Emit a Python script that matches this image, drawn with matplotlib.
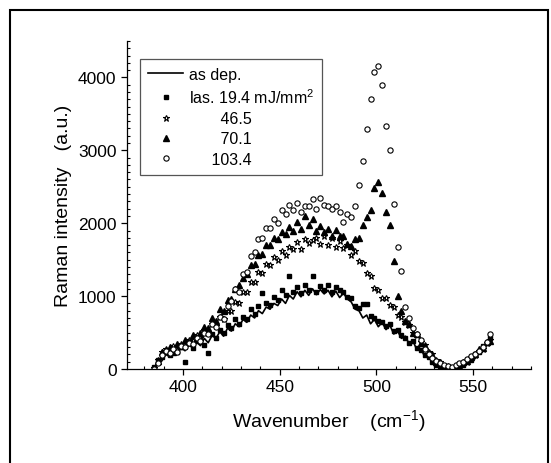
"""
Raman spectra of as-deposited and laser-treated films (recreated figure).
Values read off the reference picture by eye.
"""
import numpy as np
import matplotlib
matplotlib.use('Agg')
import matplotlib.pyplot as plt
from matplotlib.patches import Rectangle
from matplotlib.ticker import MultipleLocator

plt.rcParams['font.family'] = ['Liberation Sans', 'DejaVu Sans']
plt.rcParams['mathtext.default'] = 'regular'

# ── wavenumber grid (cm^-1) ──
WN = [385, 387, 389, 391, 393, 395, 397, 399, 401, 403, 405, 407, 409, 411, 413,
      415, 417, 419, 421, 423, 425, 427, 429, 431, 433, 435, 437, 439, 441, 443,
      445, 447, 449, 451, 453, 455, 457, 459, 461, 463, 465, 467, 469, 471, 473,
      475, 477, 479, 481, 483, 485, 487, 489, 491, 493, 495, 497, 499, 501, 503,
      505, 507, 509, 511, 513, 515, 517, 519, 521, 523, 525, 527, 529, 531, 533,
      535, 537, 539, 541, 543, 545, 547, 549, 551, 553, 555, 557, 559]

# ── intensities (a.u.) ──
AS_DEP = [0, 70, 110, 200, 170, 260, 210, 300, 250, 330, 290, 370, 320, 420, 360,
          460, 420, 510, 450, 560, 520, 620, 580, 680, 640, 740, 700, 800, 760, 850,
          820, 900, 870, 960, 900, 1010, 960, 1060, 990, 1080, 1010, 1100, 1020, 1090, 1030,
          1080, 990, 1070, 980, 1040, 960, 920, 820, 800, 700, 740, 620, 680, 580, 640,
          540, 600, 480, 520, 420, 450, 340, 380, 260, 280, 170, 190, 80, 60, 10,
          20, 0, 30, 0, 20, 60, 70, 130, 140, 220, 250, 330, 390]

LAS_19_4 = [30, 120, 160, 230, 190, 280, 240, 300, 100, 360, 290, 390, 420, 330, 220,
            480, 430, 540, 500, 600, 560, 680, 620, 720, 680, 820, 760, 860, 1040, 900,
            880, 990, 950, 1080, 1010, 1270, 1050, 1130, 1040, 1150, 1080, 1270, 1060, 1140, 1080,
            1150, 1060, 1120, 1080, 1060, 990, 980, 870, 840, 890, 890, 730, 700, 660, 640,
            590, 620, 520, 540, 460, 420, 360, 380, 290, 260, 190, 160, 90, 60, 40,
            20, 30, 0, 20, 40, 50, 120, 130, 200, 230, 310, 350, 430]

LAS_46_5 = [20, 120, 230, 270, 210, 310, 260, 340, 320, 400, 380, 470, 430, 540, 510,
            620, 590, 720, 680, 800, 790, 920, 900, 1050, 1050, 1200, 1190, 1330, 1320, 1440,
            1420, 1540, 1500, 1620, 1560, 1680, 1640, 1740, 1650, 1780, 1730, 1770, 1800, 1720, 1830,
            1700, 1800, 1680, 1750, 1660, 1700, 1560, 1620, 1480, 1450, 1320, 1280, 1110, 1080, 980,
            980, 880, 850, 740, 720, 640, 610, 500, 460, 370, 330, 240, 200, 120, 100,
            40, 40, 0, 30, 30, 80, 100, 160, 190, 250, 280, 360, 400]

LAS_70_1 = [10, 110, 230, 260, 300, 240, 340, 310, 400, 370, 460, 430, 500, 580, 560,
            700, 660, 820, 800, 950, 960, 1100, 1150, 1250, 1300, 1420, 1440, 1570, 1580, 1700,
            1700, 1800, 1780, 1880, 1850, 1950, 1900, 2010, 1920, 2100, 1980, 2060, 1900, 1960, 1880,
            1920, 1820, 1910, 1830, 1820, 1720, 1690, 1780, 1800, 1980, 2080, 2180, 2480, 2560, 2420,
            2160, 1980, 1480, 1000, 800, 660, 620, 500, 480, 360, 320, 220, 190, 100, 90,
            30, 30, 0, 30, 40, 90, 110, 170, 200, 270, 290, 370, 390]

LAS_103_4 = [0, 80, 190, 250, 220, 270, 240, 310, 300, 350, 340, 420, 390, 500, 480,
             620, 580, 720, 680, 860, 930, 1100, 1050, 1300, 1330, 1550, 1600, 1780, 1800, 1930,
             1930, 2060, 2000, 2180, 2130, 2250, 2180, 2280, 2150, 2230, 2240, 2330, 2200, 2340, 2250,
             2230, 2200, 2230, 2150, 2020, 2120, 2080, 2230, 2530, 2850, 3290, 3700, 4070, 4160, 3900,
             3340, 3010, 2270, 1680, 1340, 850, 700, 560, 480, 400, 280, 200, 150, 110, 80,
             50, 40, 30, 50, 80, 100, 140, 180, 200, 250, 300, 370, 480]

fig = plt.figure(figsize=(5.51, 4.64), dpi=100)
ax = fig.add_axes([0.2305, 0.2026, 0.7332, 0.7069])

ax.plot(WN, AS_DEP, color='black', lw=1.2, label='as dep.')
ax.plot(WN, LAS_19_4, ls='none', marker='s', ms=3.5, color='black',
        label='las. 19.4 mJ/mm$^2$')
ax.plot(WN, LAS_46_5, ls='none', marker='*', ms=4.6, mfc='white', mec='black', mew=0.8,
        label='       46.5')
ax.plot(WN, LAS_70_1, ls='none', marker='^', ms=4.0, color='black',
        label='       70.1')
ax.plot(WN, LAS_103_4, ls='none', marker='o', ms=3.8, mfc='white', mec='black', mew=0.8,
        label='     103.4')

ax.set_xlim(371, 580)
ax.set_ylim(0, 4500)
ax.xaxis.set_major_locator(MultipleLocator(50))
ax.xaxis.set_minor_locator(MultipleLocator(10))
ax.yaxis.set_major_locator(MultipleLocator(1000))
ax.yaxis.set_minor_locator(MultipleLocator(100))
ax.tick_params(which='major', direction='out', length=4.5, width=0.9, labelsize=12.5, pad=3)
ax.tick_params(which='minor', direction='in', length=2.5, width=0.8)
for side in ('top', 'right'):
    ax.spines[side].set_visible(False)
for side in ('left', 'bottom'):
    ax.spines[side].set_linewidth(0.9)

ax.set_xlabel('Wavenumber    (cm$^{-1}$)', fontsize=14, labelpad=9)
ax.set_ylabel('Raman intensity   (a.u.)', fontsize=14, labelpad=4)

leg = ax.legend(loc='upper left', bbox_to_anchor=(140 / 551, 1 - 60 / 464),
                bbox_transform=fig.transFigure, fontsize=11.5, frameon=True,
                fancybox=False, edgecolor='#555555', framealpha=1,
                handlelength=2.2, handletextpad=0.35, labelspacing=0.33,
                borderpad=0.5, borderaxespad=0, numpoints=1)
leg.get_frame().set_linewidth(0.9)

# outer frame around the whole figure
fig.add_artist(Rectangle((10 / 551, -0.1), 538 / 551, 1.1 - 11 / 464,
                         transform=fig.transFigure, fill=False, lw=1.5, ec='black'))

fig.savefig('out.png', dpi=100)
